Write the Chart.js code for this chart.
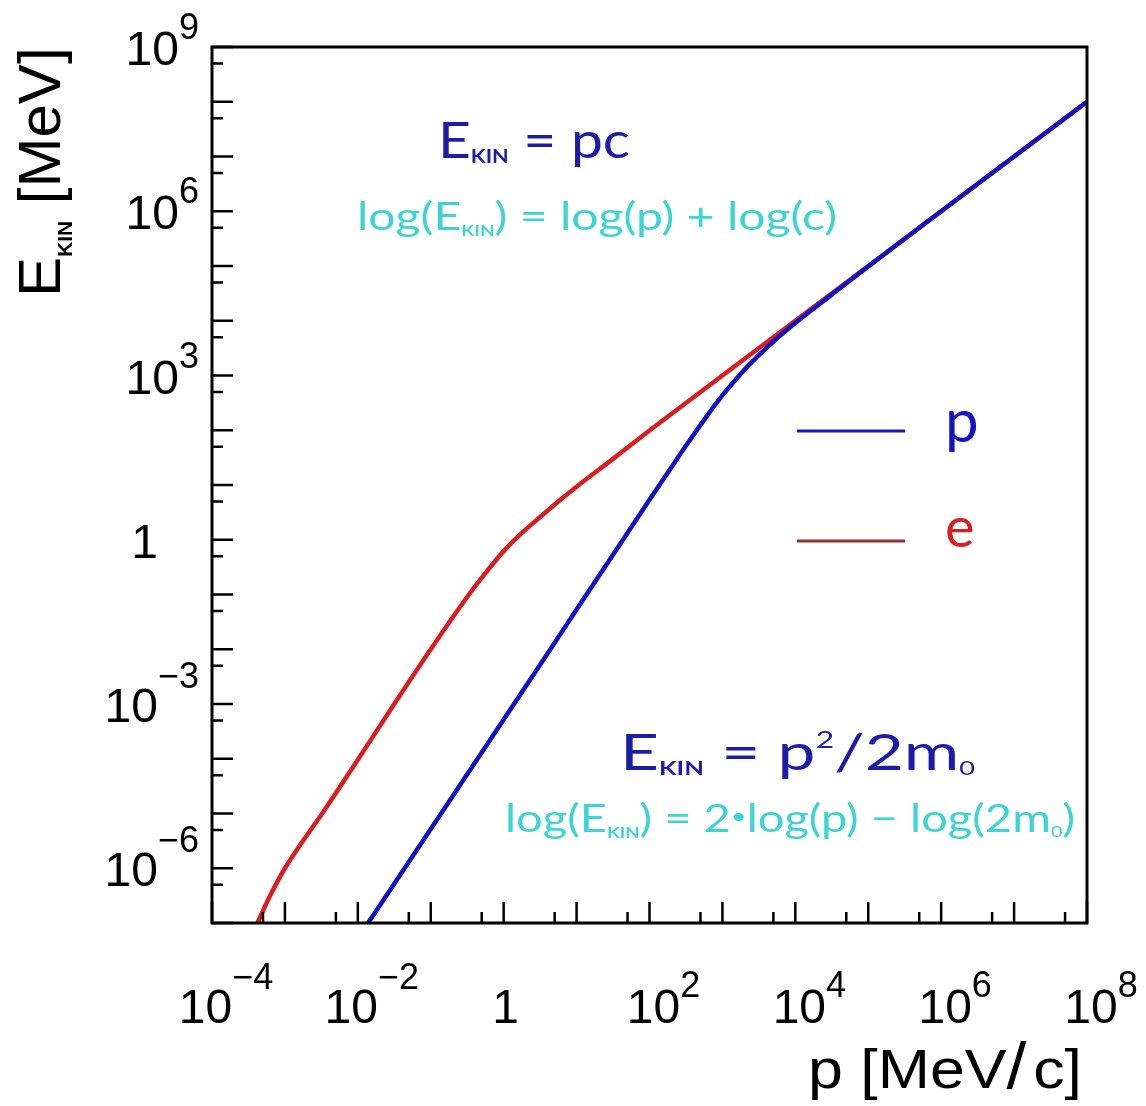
<!DOCTYPE html>
<html>
<head>
<meta charset="utf-8">
<script src="https://cdn.jsdelivr.net/npm/chart.js@4.4.0/dist/chart.umd.min.js"></script>
<style>
  html, body { margin: 0; padding: 0; background: #fff; }
  canvas { display: block; }
</style>
</head>
<body>
<canvas id="ekin" width="1146" height="1106"></canvas>
<script>
// Kinetic energy vs momentum, proton and electron (log-log)
const protonP = [1.38e-2, 3.16e-2, 0.1, 0.316, 1, 3.16, 10, 31.6, 100, 178, 316, 562, 1000, 1778, 3162, 5623, 1e4, 3.16e4, 1e5, 1e6, 1e7, 1e8];
const protonE = [1.0e-7, 5.2e-7, 5.2e-6, 5.2e-5, 5.2e-4, 5.2e-3, 5.3e-2, 0.53, 5.4, 16.8, 52, 155, 432, 1070, 2350, 4780, 9100, 3.0e4, 9.8e4, 1e6, 1e7, 1e8];

const electronP = [4.2e-4, 6.3e-4, 1e-3, 1.78e-3, 3.16e-3, 1e-2, 3.16e-2, 0.1, 0.316, 0.562, 1, 1.78, 3.16, 5.62, 10, 31.6, 100, 316, 1000, 1e4, 1e5, 1e6, 1e7, 1e8];
const electronE = [1.0e-7, 3.2e-7, 1.0e-6, 3.2e-6, 9.5e-6, 9.6e-5, 1.0e-3, 1.0e-2, 9.0e-2, 0.245, 0.62, 1.33, 2.6, 5.0, 9.3, 30, 99, 315, 1000, 1e4, 1e5, 1e6, 1e7, 1e8];

// axis ranges (decades) and which decades get a label
const xDecades = [-4, 8];
const yDecades = [-7, 9];
const xLabelExps = [-4, -2, 0, 2, 4, 6, 8];
const yLabelExps = [9, 6, 3, 0, -3, -6];

const BLUE = '#1212c0';
const RED = '#d81e1e';
const NAVY = '#1c1ca8';
const CYAN = '#3fd4d4';

const toPoints = (xs, ys) => xs.map((x, i) => ({ x: x, y: ys[i] }));

// draw a run of text pieces (sub/superscripts) starting at x, optionally squeezed to a width
function drawRich(ctx, parts, x, y, opts) {
    opts = opts || {};
    ctx.save();
    ctx.textAlign = 'left';
    ctx.textBaseline = 'alphabetic';
    const widths = parts.map(p => {
        ctx.font = p.font;
        return ctx.measureText(p.t).width + (p.gap || 0);
    });
    const natural = widths.reduce((a, b) => a + b, 0);
    const sx = opts.width ? opts.width / natural : 1;
    const total = natural * sx;
    let x0 = x;
    if (opts.align === 'right') x0 = x - total;
    else if (opts.align === 'center') x0 = x - total / 2;
    ctx.translate(x0, y);
    ctx.scale(sx, 1);
    let cx = 0;
    parts.forEach((p, i) => {
        ctx.font = p.font;
        ctx.fillStyle = p.color || opts.color || '#000';
        ctx.fillText(p.t, cx + (p.pad || 0), p.dy || 0);
        cx += widths[i];
    });
    ctx.restore();
}

function powerParts(exp, baseFont, supFont) {
    if (exp === 0) return [{ t: '1', font: baseFont }];
    const neg = exp < 0;
    return [
        { t: '10', font: baseFont },
        { t: (neg ? '\u2212' : '') + Math.abs(exp), font: supFont, dy: neg ? -34 : -26 }
    ];
}

const framePlugin = {
    id: 'frameAndText',
    afterDatasetsDraw(chart) {
        const ctx = chart.ctx;
        const area = chart.chartArea;
        const xs = chart.scales.x;
        const ys = chart.scales.y;
        const tickFont = '48px "Liberation Sans", Arial, sans-serif';
        const supFont = '36px "Liberation Sans", Arial, sans-serif';

        ctx.save();
        ctx.strokeStyle = '#000';
        ctx.lineWidth = 3;
        ctx.strokeRect(area.left, area.top, area.right - area.left, area.bottom - area.top);

        // inward ticks: long at each decade, short at 5 x 10^(n-1)
        ctx.lineWidth = 2.5;
        ctx.beginPath();
        for (let n = xDecades[0]; n <= xDecades[1]; n++) {
            const px = xs.getPixelForValue(Math.pow(10, n));
            ctx.moveTo(px, area.bottom);
            ctx.lineTo(px, area.bottom - 21);
            const v = 5 * Math.pow(10, n - 1);
            if (v > xs.min && v < xs.max) {
                const pm = xs.getPixelForValue(v);
                ctx.moveTo(pm, area.bottom);
                ctx.lineTo(pm, area.bottom - 11);
            }
        }
        for (let n = yDecades[0]; n <= yDecades[1]; n++) {
            const py = ys.getPixelForValue(Math.pow(10, n));
            ctx.moveTo(area.left, py);
            ctx.lineTo(area.left + 21, py);
            const v = 5 * Math.pow(10, n - 1);
            if (v > ys.min && v < ys.max) {
                const pm = ys.getPixelForValue(v);
                ctx.moveTo(area.left, pm);
                ctx.lineTo(area.left + 11, pm);
            }
        }
        ctx.stroke();
        ctx.restore();

        // tick labels
        xLabelExps.forEach(e => {
            const px = xs.getPixelForValue(Math.pow(10, e));
            drawRich(ctx, powerParts(e, tickFont, supFont), px + (e === 0 ? 2 : 14), area.bottom + 100, { align: 'center' });
        });
        yLabelExps.forEach(e => {
            const py = ys.getPixelForValue(Math.pow(10, e));
            drawRich(ctx, powerParts(e, tickFont, supFont), e === 0 ? 158 : 199, py + 18, { align: 'right' });
        });

        // axis titles
        ctx.save();
        ctx.translate(60, 297);
        ctx.rotate(-Math.PI / 2);
        drawRich(ctx, [
            { t: 'E', font: '60px "Liberation Sans", Arial, sans-serif' },
            { t: 'KIN', font: 'bold 21px "Liberation Sans", Arial, sans-serif', dy: 12 },
            { t: ' [MeV]', font: '60px "Liberation Sans", Arial, sans-serif' }
        ], 0, 0);
        ctx.restore();

        const titleFont = '56px "Liberation Sans", Arial, sans-serif';
        drawRich(ctx, [
            { t: 'p [MeV', font: titleFont },
            { t: '/', font: '64px "Liberation Sans", Arial, sans-serif', gap: 6 },
            { t: 'c]', font: titleFont }
        ], 808, 1088, { width: 274 });

        // formula annotations
        const big = '50px Lato, "Noto Sans", sans-serif';
        const mid = '38px Lato, "Noto Sans", sans-serif';
        drawRich(ctx, [
            { t: 'E', font: big },
            { t: 'KIN', font: 'bold 19px Lato, sans-serif', dy: 5 },
            { t: ' = pc', font: big }
        ], 438, 158, { width: 192, color: NAVY });
        drawRich(ctx, [
            { t: 'log(E', font: mid },
            { t: 'KIN', font: 'bold 15px Lato, sans-serif', dy: 6 },
            { t: ') = log(p) + log(c)', font: mid }
        ], 357, 230, { width: 480, color: CYAN });
        drawRich(ctx, [
            { t: 'E', font: big },
            { t: 'KIN', font: 'bold 19px Lato, sans-serif', dy: 5 },
            { t: ' = p', font: big },
            { t: '2', font: '24px Lato, sans-serif', dy: -22 },
            { t: '/2m', font: big },
            { t: '0', font: '20px Lato, sans-serif', dy: 5 }
        ], 620, 770, { width: 355, color: NAVY });
        drawRich(ctx, [
            { t: 'log(E', font: mid },
            { t: 'KIN', font: 'bold 15px Lato, sans-serif', dy: 6 },
            { t: ') = 2', font: mid },
            { t: '\u2022', font: '22px Lato, sans-serif', dy: -8 },
            { t: 'log(p) \u2212 log(2m', font: mid },
            { t: '0', font: '16px Lato, sans-serif', dy: 5 },
            { t: ')', font: mid }
        ], 505, 832, { width: 570, color: CYAN });

        // legend
        ctx.save();
        ctx.lineWidth = 3;
        ctx.strokeStyle = '#1919af';
        ctx.beginPath();
        ctx.moveTo(797, 431);
        ctx.lineTo(905, 431);
        ctx.stroke();
        ctx.strokeStyle = '#963030';
        ctx.beginPath();
        ctx.moveTo(797, 541);
        ctx.lineTo(905, 541);
        ctx.stroke();
        ctx.restore();
        drawRich(ctx, [{ t: 'p', font: '60px Lato, sans-serif' }], 945, 442, { color: BLUE });
        drawRich(ctx, [{ t: 'e', font: '56px Lato, sans-serif' }], 945, 547, { color: RED });
    }
};

new Chart(document.getElementById('ekin'), {
    type: 'line',
    data: {
        datasets: [
            {
                label: 'p',
                data: toPoints(protonP, protonE),
                borderColor: BLUE,
                borderWidth: 4.5,
                pointRadius: 0,
                cubicInterpolationMode: 'monotone',
                fill: false
            },
            {
                label: 'e',
                data: toPoints(electronP, electronE),
                borderColor: RED,
                borderWidth: 4.5,
                pointRadius: 0,
                cubicInterpolationMode: 'monotone',
                fill: false
            }
        ]
    },
    options: {
        responsive: false,
        animation: false,
        devicePixelRatio: 1,
        layout: { padding: { left: 212, top: 47, right: 59, bottom: 183 } },
        plugins: { legend: { display: false }, tooltip: { enabled: false } },
        scales: {
            x: {
                type: 'logarithmic',
                display: false,
                min: Math.pow(10, xDecades[0]),
                max: Math.pow(10, xDecades[1])
            },
            y: {
                type: 'logarithmic',
                display: false,
                min: Math.pow(10, yDecades[0]),
                max: Math.pow(10, yDecades[1])
            }
        }
    },
    plugins: [framePlugin]
});
</script>
</body>
</html>
